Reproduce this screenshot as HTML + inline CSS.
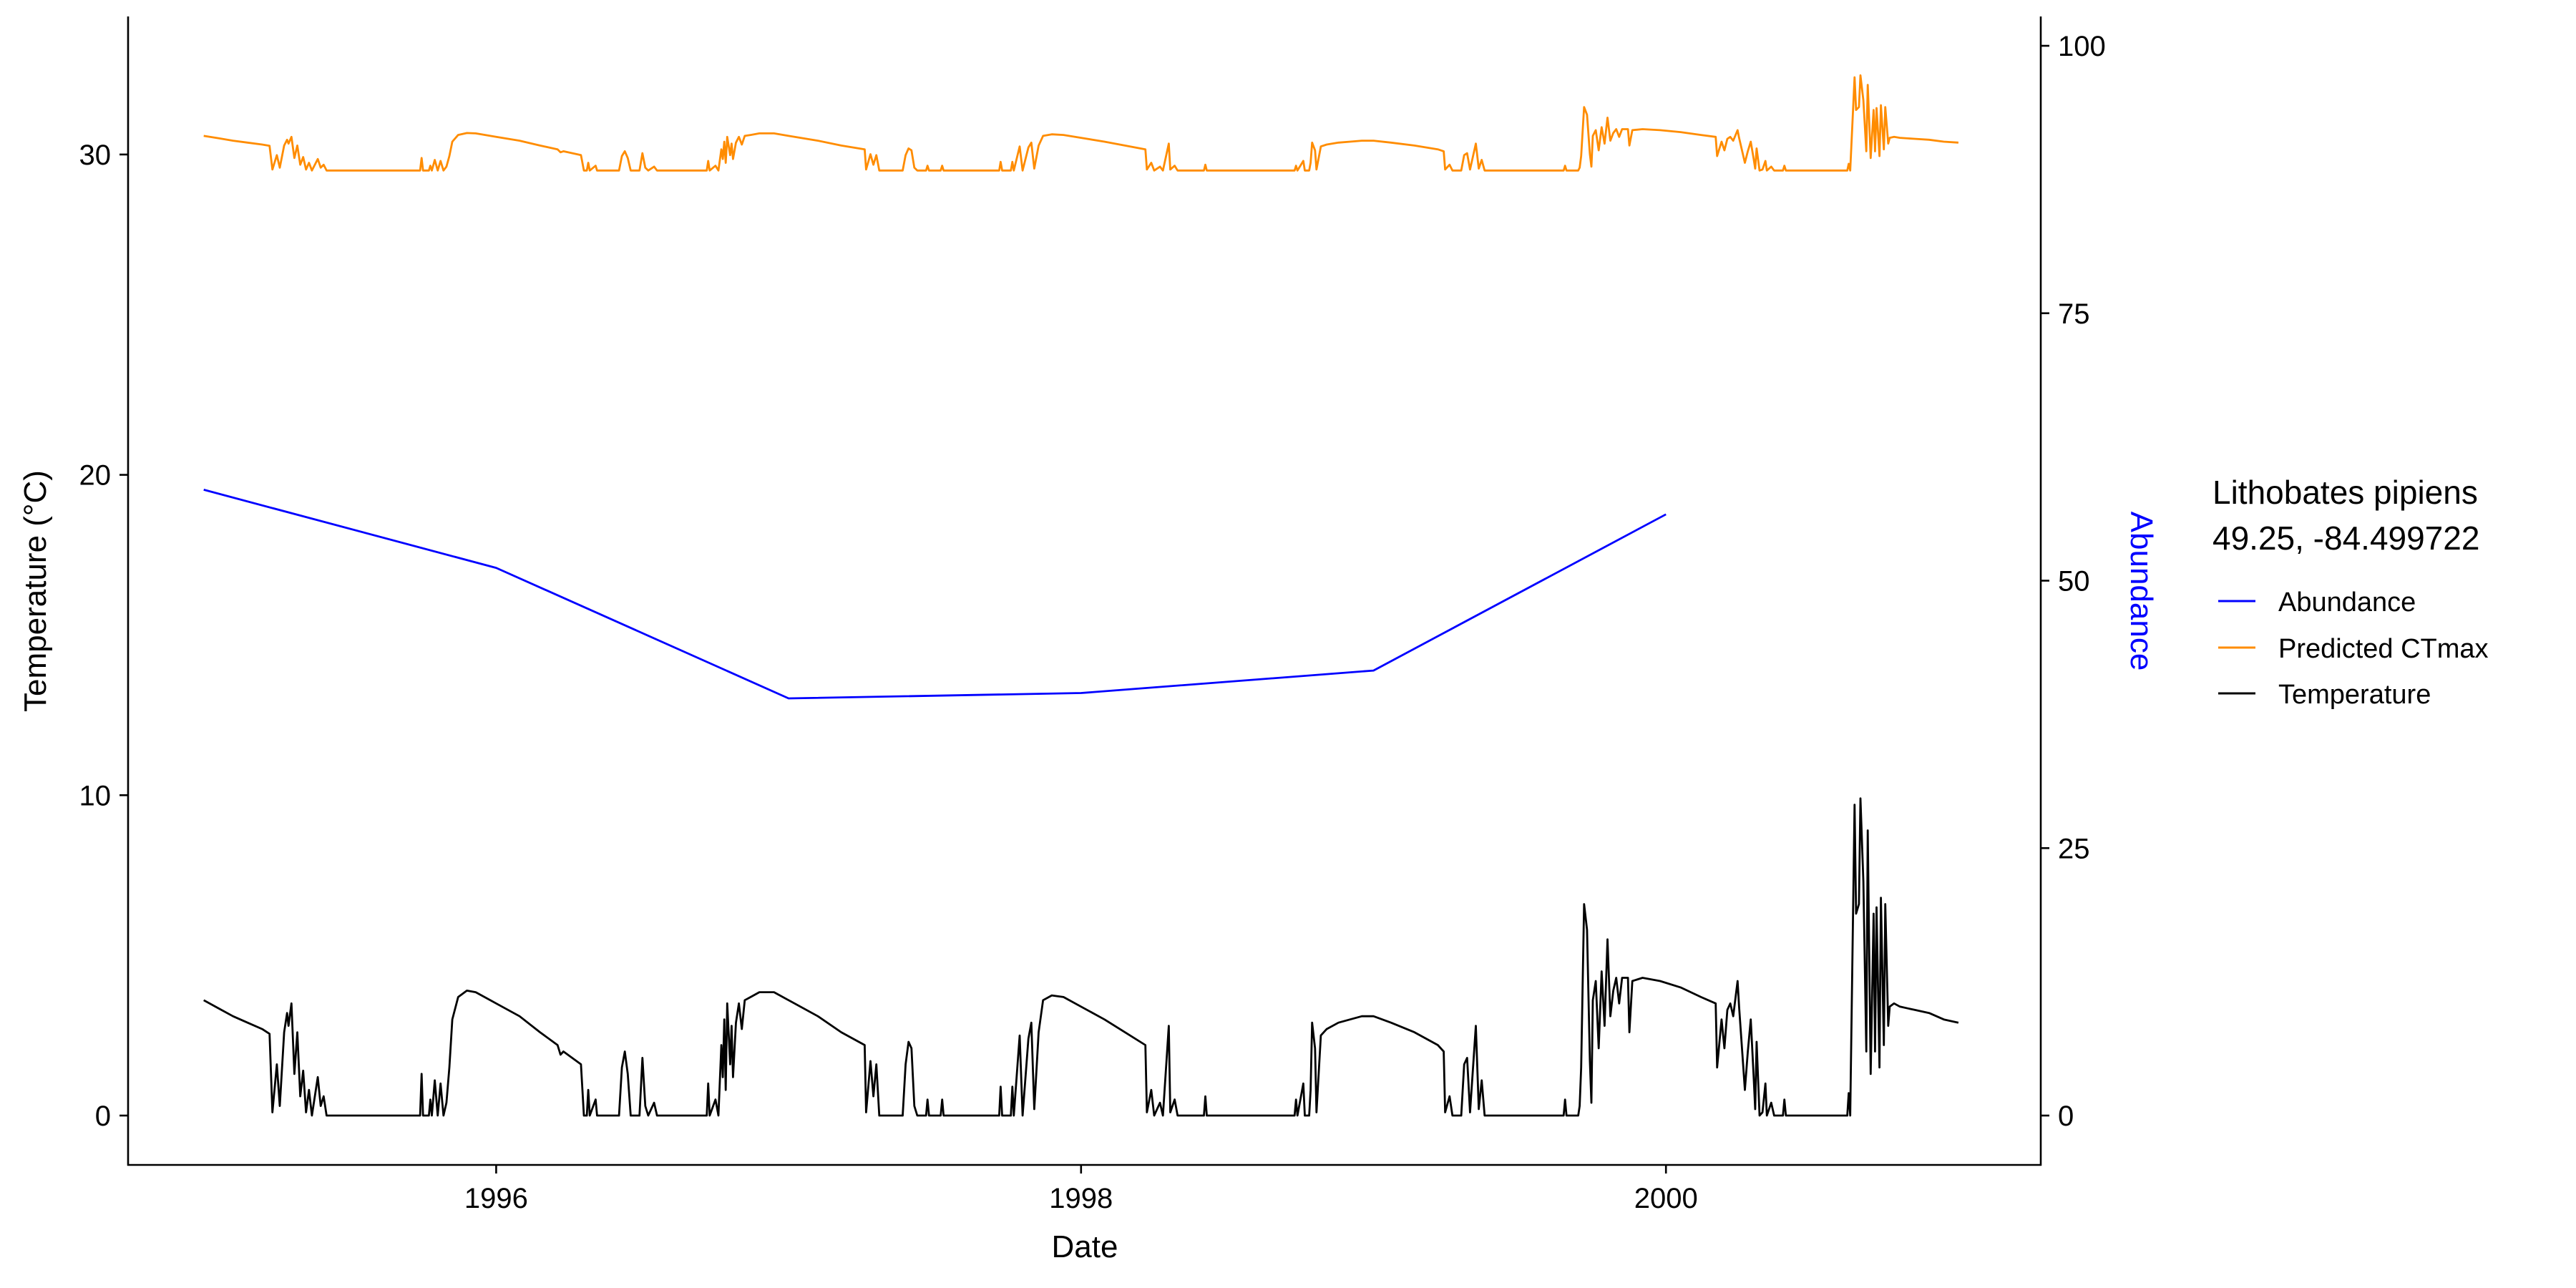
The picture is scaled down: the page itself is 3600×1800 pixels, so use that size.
<!DOCTYPE html>
<html><head><meta charset="utf-8"><style>
html,body{margin:0;padding:0;background:#fff;}
svg{display:block;font-family:"Liberation Sans",Arial,sans-serif;}
</style></head><body>
<svg id="chart" width="3600" height="1800" viewBox="0 0 3600 1800" xmlns="http://www.w3.org/2000/svg">
<rect width="3600" height="1800" fill="#fff"/>
<g id="axes"></g>
<g id="series"></g>
<text x="1516" y="1757" font-size="44" text-anchor="middle" fill="#000">Date</text>
<text transform="translate(64,826) rotate(-90)" font-size="44" text-anchor="middle" fill="#000">Temperature (°C)</text>
<text transform="translate(2978,826) rotate(90)" font-size="44" text-anchor="middle" fill="#0000ff">Abundance</text>
<g>
<text x="3092" y="704" font-size="46" fill="#000">Lithobates pipiens</text>
<text x="3092" y="768" font-size="46" fill="#000">49.25, -84.499722</text>
<line x1="3100" y1="840" x2="3152" y2="840" stroke="#0000ff" stroke-width="3"/>
<text x="3184" y="854" font-size="38" fill="#000">Abundance</text>
<line x1="3100" y1="905" x2="3152" y2="905" stroke="#ff8c00" stroke-width="3"/>
<text x="3184" y="919" font-size="38" fill="#000">Predicted CTmax</text>
<line x1="3100" y1="969" x2="3152" y2="969" stroke="#000" stroke-width="3"/>
<text x="3184" y="983" font-size="38" fill="#000">Temperature</text>
</g>
</svg>
<script>
const abundanceYears = [1995, 1996, 1997, 1998, 1999, 2000];
const abundanceValues = [58.5, 51.2, 39, 39.5, 41.6, 56.2];
const xTicks = [1996, 1998, 2000];
const yTicks = [0, 10, 20, 30];
const y2Ticks = [0, 25, 50, 75, 100];
const dates = [1995.00,1995.05,1995.10,1995.15,1995.20,1995.225,1995.235,1995.25,1995.26,1995.275,1995.285,1995.29,1995.30,1995.31,1995.32,1995.33,1995.34,1995.35,1995.36,1995.37,1995.39,1995.40,1995.41,1995.42,1995.74,1995.745,1995.75,1995.77,1995.775,1995.78,1995.79,1995.80,1995.81,1995.82,1995.83,1995.84,1995.85,1995.87,1995.90,1995.93,1996.00,1996.08,1996.15,1996.21,1996.22,1996.23,1996.29,1996.30,1996.31,1996.315,1996.32,1996.34,1996.345,1996.42,1996.43,1996.44,1996.45,1996.46,1996.49,1996.50,1996.51,1996.52,1996.54,1996.55,1996.72,1996.725,1996.73,1996.75,1996.76,1996.77,1996.775,1996.78,1996.785,1996.79,1996.80,1996.805,1996.81,1996.82,1996.83,1996.84,1996.85,1996.87,1996.90,1996.95,1997.00,1997.10,1997.18,1997.26,1997.265,1997.28,1997.29,1997.30,1997.31,1997.39,1997.40,1997.41,1997.42,1997.43,1997.44,1997.47,1997.475,1997.48,1997.52,1997.525,1997.53,1997.72,1997.725,1997.73,1997.76,1997.765,1997.77,1997.79,1997.80,1997.82,1997.83,1997.84,1997.855,1997.87,1997.90,1997.94,1998.00,1998.08,1998.15,1998.22,1998.225,1998.24,1998.25,1998.27,1998.28,1998.30,1998.305,1998.32,1998.33,1998.42,1998.425,1998.43,1998.73,1998.735,1998.74,1998.76,1998.765,1998.78,1998.785,1998.79,1998.80,1998.805,1998.82,1998.84,1998.88,1998.92,1998.96,1999.00,1999.06,1999.14,1999.22,1999.24,1999.245,1999.26,1999.27,1999.30,1999.31,1999.32,1999.33,1999.35,1999.36,1999.37,1999.38,1999.65,1999.655,1999.66,1999.70,1999.705,1999.71,1999.72,1999.73,1999.74,1999.745,1999.75,1999.76,1999.77,1999.78,1999.79,1999.80,1999.81,1999.82,1999.83,1999.84,1999.85,1999.87,1999.875,1999.885,1999.92,1999.98,2000.05,2000.12,2000.17,2000.175,2000.19,2000.20,2000.21,2000.22,2000.23,2000.245,2000.25,2000.27,2000.28,2000.29,2000.30,2000.305,2000.31,2000.32,2000.33,2000.34,2000.345,2000.36,2000.37,2000.40,2000.405,2000.41,2000.62,2000.625,2000.63,2000.645,2000.65,2000.66,2000.665,2000.675,2000.685,2000.69,2000.70,2000.71,2000.715,2000.72,2000.73,2000.735,2000.745,2000.75,2000.76,2000.765,2000.78,2000.80,2000.85,2000.90,2000.95,2001.00];
const temperature = [3.6,3.35,3.1,2.9,2.7,2.55,0.1,1.6,0.3,2.6,3.2,2.8,3.5,1.3,2.6,0.6,1.4,0.1,0.8,0,1.2,0.3,0.6,0,0,1.3,0,0,0.5,0,1.1,0,1.0,0,0.4,1.5,3.0,3.7,3.9,3.85,3.5,3.1,2.6,2.2,1.9,2.0,1.6,0,0,0.8,0,0.5,0,0,1.5,2.0,1.3,0,0,1.8,0.3,0,0.4,0,0,1.0,0,0.5,0,2.2,1.2,3.0,0.8,3.5,1.6,2.8,1.2,2.9,3.5,2.7,3.6,3.7,3.85,3.85,3.6,3.1,2.6,2.2,0.1,1.7,0.6,1.6,0,0,1.6,2.3,2.1,0.3,0,0,0.5,0,0,0.5,0,0,0.9,0,0,0.9,0,2.5,0,2.4,2.9,0.2,2.6,3.6,3.75,3.7,3.4,3.0,2.6,2.2,0.1,0.8,0,0.4,0,2.8,0.1,0.5,0,0,0.6,0,0,0.5,0,1.0,0,0,0.8,2.9,2.1,0.1,2.5,2.7,2.9,3.0,3.1,3.1,2.9,2.6,2.2,2.0,0.1,0.6,0,0,1.6,1.8,0.1,2.8,0.2,1.1,0,0,0.5,0,0,0.3,1.5,6.6,5.8,1.7,0.4,3.6,4.2,2.1,4.5,2.8,5.5,3.1,3.9,4.3,3.5,4.3,4.3,2.6,4.2,4.3,4.2,4.0,3.7,3.5,1.5,3.0,2.1,3.3,3.5,3.1,4.2,3.4,0.8,2.0,3.0,1.2,0.2,2.3,0,0.1,1.0,0,0.4,0,0,0.5,0,0,0.7,0,9.7,6.3,6.6,9.9,7.3,2.0,8.9,1.3,6.3,2.0,6.5,1.5,6.8,2.2,6.6,2.8,3.4,3.5,3.4,3.3,3.2,3.0,2.9];
const ctmax = [30.58,30.51,30.43,30.37,30.31,30.27,29.53,29.98,29.59,30.28,30.46,30.34,30.55,29.89,30.28,29.68,29.92,29.53,29.74,29.5,29.86,29.59,29.68,29.5,29.5,29.89,29.5,29.5,29.65,29.5,29.83,29.5,29.8,29.5,29.62,29.95,30.4,30.61,30.67,30.66,30.55,30.43,30.28,30.16,30.07,30.1,29.98,29.5,29.5,29.74,29.5,29.65,29.5,29.5,29.95,30.1,29.89,29.5,29.5,30.04,29.59,29.5,29.62,29.5,29.5,29.8,29.5,29.65,29.5,30.16,29.86,30.4,29.74,30.55,29.98,30.34,29.86,30.37,30.55,30.31,30.58,30.61,30.66,30.66,30.58,30.43,30.28,30.16,29.53,30.01,29.68,29.98,29.5,29.5,29.98,30.19,30.13,29.59,29.5,29.5,29.65,29.5,29.5,29.65,29.5,29.5,29.77,29.5,29.5,29.77,29.5,30.25,29.5,30.22,30.37,29.56,30.28,30.58,30.63,30.61,30.52,30.4,30.28,30.16,29.53,29.74,29.5,29.62,29.5,30.34,29.53,29.65,29.5,29.5,29.68,29.5,29.5,29.65,29.5,29.8,29.5,29.5,29.74,30.37,30.13,29.53,30.25,30.31,30.37,30.4,30.43,30.43,30.37,30.28,30.16,30.1,29.53,29.68,29.5,29.5,29.98,30.04,29.53,30.34,29.56,29.83,29.5,29.5,29.65,29.5,29.5,29.59,29.95,31.48,31.24,30.01,29.62,30.58,30.76,30.13,30.85,30.34,31.15,30.43,30.67,30.79,30.55,30.79,30.79,30.28,30.76,30.79,30.76,30.7,30.61,30.55,29.95,30.4,30.13,30.49,30.55,30.43,30.76,30.52,29.74,30.1,30.4,29.86,29.56,30.19,29.5,29.53,29.8,29.5,29.62,29.5,29.5,29.65,29.5,29.5,29.71,29.5,32.41,31.39,31.48,32.47,31.69,30.1,32.17,29.89,31.39,30.1,31.45,29.95,31.54,30.16,31.48,30.34,30.52,30.55,30.52,30.49,30.46,30.4,30.37];

const NS = 'http://www.w3.org/2000/svg';
const X0 = 284.7, XPY = 408.7;
const Y0 = 1559, YPU = 44.77, Y2PU = 14.95;
const LEFT = 179, RIGHT = 2852, TOP = 23, BOTTOM = 1628;
function xScale(yr){ return X0 + (yr - 1995) * XPY; }
function yScale(v){ return Y0 - v * YPU; }
function y2Scale(v){ return Y0 - v * Y2PU; }
function mk(tag, attrs, parent){
  const el = document.createElementNS(NS, tag);
  for (const k in attrs) el.setAttribute(k, attrs[k]);
  parent.appendChild(el);
  return el;
}
const axes = document.getElementById('axes');
const series = document.getElementById('series');

let el = mk('line', {x1:LEFT, y1:TOP, x2:LEFT, y2:BOTTOM+1, stroke:'#000', 'stroke-width':2.6}, axes);


el = mk('line', {x1:RIGHT, y1:TOP, x2:RIGHT, y2:BOTTOM+1, stroke:'#000', 'stroke-width':2.6}, axes);


el = mk('line', {x1:LEFT-1, y1:BOTTOM, x2:RIGHT+1, y2:BOTTOM, stroke:'#000', 'stroke-width':2.6}, axes);



xTicks.forEach(t => {
  const x = xScale(t);
  let tk = mk('line', {x1:x, y1:BOTTOM, x2:x, y2:BOTTOM+12, stroke:'#000', 'stroke-width':2.6}, axes);
  
  
  let lb = mk('text', {x:x, y:BOTTOM+60, 'font-size':40, 'text-anchor':'middle', fill:'#000'}, axes);
  lb.textContent = t;
  
  
});
yTicks.forEach(t => {
  const y = yScale(t);
  let tk = mk('line', {x1:LEFT-12, y1:y, x2:LEFT, y2:y, stroke:'#000', 'stroke-width':2.6}, axes);
  
  
  let lb = mk('text', {x:LEFT-24, y:y+14, 'font-size':40, 'text-anchor':'end', fill:'#000'}, axes);
  lb.textContent = t;
  
  
});
y2Ticks.forEach(t => {
  const y = y2Scale(t);
  let tk = mk('line', {x1:RIGHT, y1:y, x2:RIGHT+12, y2:y, stroke:'#000', 'stroke-width':2.6}, axes);
  
  
  let lb = mk('text', {x:RIGHT+24, y:y+14, 'font-size':40, 'text-anchor':'start', fill:'#000'}, axes);
  lb.textContent = t;
  
  
});

function pathFrom(xs, ys, yf){
  return xs.map((d,i) => (i ? 'L' : 'M') + xScale(d).toFixed(1) + ',' + yf(ys[i]).toFixed(1)).join(' ');
}
let p = mk('path', {d:pathFrom(dates, ctmax, yScale), fill:'none', stroke:'#ff8c00', 'stroke-width':2.8, 'stroke-linejoin':'round'}, series);


p = mk('path', {d:pathFrom(dates, temperature, yScale), fill:'none', stroke:'#000', 'stroke-width':2.8, 'stroke-linejoin':'round'}, series);


p = mk('path', {d:pathFrom(abundanceYears, abundanceValues, y2Scale), fill:'none', stroke:'#0000ff', 'stroke-width':2.8, 'stroke-linejoin':'round'}, series);


</script>
</body></html>
